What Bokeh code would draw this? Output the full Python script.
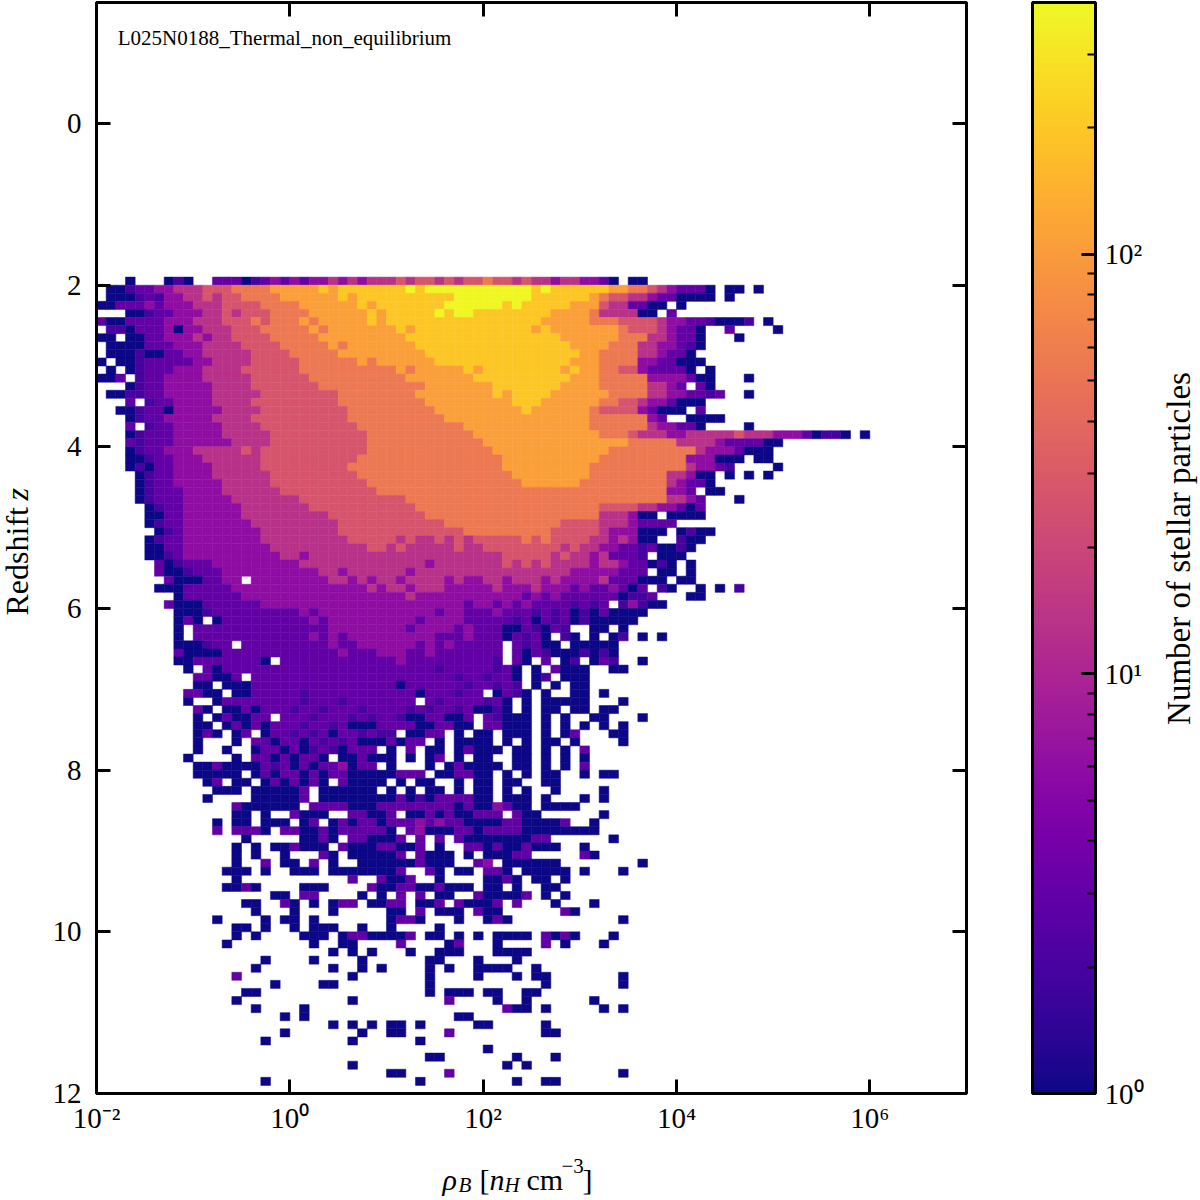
import math
from bokeh.plotting import figure
from bokeh.layouts import row, column
from bokeh.models import (ColumnDataSource, Range1d, FixedTicker, LinearAxis, LogAxis,
                          ColorBar, LogColorMapper, CustomJSTickFormatter, Label)
from bokeh.palettes import Plasma256
from bokeh.transform import transform
from bokeh.embed import file_html
from bokeh.resources import INLINE

# ---------------------------------------------------------------- data ----
# 2D histogram.  One string per redshift bin (0.1 wide,
# first bin starts at z = 1.9), one character per density bin (0.1 dex wide,
# first bin starts at log10 rho = -2).  '.' = empty bin, a digit = colour level
# (number of stellar particles given by LEVEL_COUNTS).  Spaces only group
# the columns by ten.
LOG_RHO_START = -2.0
LOG_RHO_BIN = 0.1
Z_START = 1.9
Z_BIN = 0.1
LEVEL_COUNTS = [1, 2, 3, 6, 13, 27, 55, 105, 200, 380]

HIST_ROWS = [
    "...0...010 ..22201232 3233434344 4545545455 6554544344 3320.00...",
    ".001223344 4555666677 7778788888 8898999999 9999989888 8887766543 2220.00.0.",
    ".000121334 4545566667 7777787888 8888888999 9999988888 8765544322 0000.0....",
    "0022232333 4445555666 6777777878 8888889999 9989888887 775442200. 0.........",
    "...0012233 3445455566 6677777787 8888898998 8888888777 76444400.2",
    "2002222333 4445556566 6767777787 8888888888 8888887777 7666555543 32210001.0",
    ".110222303 3444555666 6676777777 7878888888 8888878777 7777655543 220..2.... 0.........",
    "00.0022333 4344555566 6667777777 7788888888 8888888877 7777666443 220...0...",
    ".000022233 3444455556 6666767777 7778888888 8888888887 7776664433 210.......",
    ".000100223 3444445555 6666677777 7777888888 8888888888 7766664432 20........",
    "0.00122222 3344445555 5666666767 7777788888 8888888887 7766663322 000.......",
    ".0.0122233 3444455555 5666666666 6767777787 8888888878 7766553222 20.0......",
    "002.122333 3444445555 5566666666 6677777778 8888888887 7766666333 3200...0..",
    "...0122333 3344445555 5556666666 6666777777 7888888877 7766666443 2.20......",
    ".001122333 3344444555 5555566666 6667777777 7878888777 7776666443 32212..0..",
    "...2.12233 3344445555 5555566666 6666777777 7778887777 7766554332 000.......",
    "..00122033 3334444555 5555556666 6666677777 7777877777 7655553200 0.2.......",
    "...0122333 3344445555 5555556666 6666667777 7777777777 766666632. .0000.....",
    "...2.12233 3334444555 5555555666 6666666677 7777777777 7666666433 220....0..",
    "...0122233 3334444455 5555555566 6666666667 7777777777 7766654443 3444445444 33320110.0",
    "...2122233 3333444455 5555555566 6666666666 7777777777 7777766666 4444322220 0.........",
    "...0122333 4444454555 5555555566 6666666666 6777777777 7776666666 6643332000",
    "...0012233 3444444555 5555555666 6666666666 6677777777 7766666666 6333000.00",
    "...0102233 3344444555 5555556666 6666666666 6677777777 7666666666 643321.... 0.........",
    "....012233 3344444455 5555555666 6666666666 6667777777 7666666664 4300.0.0.0",
    "....012233 3334444455 5555555566 6666666666 6666777777 6666666664 3220......",
    "....012223 3334444445 5555555556 6666666666 6666666666 6666666663 32.00.....",
    "....012223 3333444444 4555555555 5566666666 6666666666 6666666664 432...0...",
    ".....01223 3333344444 4455555555 5556666666 6666666666 6655554433 202.......",
    ".....00223 3333344444 4444555555 5555666666 6666666666 66444300.0 000.......",
    ".....01223 3333334444 4444455555 5555556666 6666666655 5544432222",
    "......0123 3333333444 4444455555 5555555566 6666666555 554333000. 0100......",
    ".....01223 3333333444 4444445555 5454454545 5555656555 54434300.. 100.......",
    ".....00223 3333333344 4444444455 4544444544 5555555545 4433221200 10........",
    ".....00123 3333333334 4344444444 4444444444 4455555454 4342221.00 0.........",
    "......2012 2233333333 3444444444 4444344444 4454545444 4344322010 .0........",
    "......2001 2223333333 3334434444 4434444444 4444444443 3333222.00 .0........",
    ".......200 02233.3333 3333443434 4344443433 4434443433 334222000. 00........",
    "......0002 2222333333 3333333343 4434443333 3433343332 3223202.10 ..0.0.1...",
    "........02 2222233333 3333333333 3343333333 3333232322 22220112.. .00.......",
    ".......200 0222222333 3333333333 3333333323 3232322221 212.13100.",
    "........00 0122222222 2323333333 3333323322 2322212120 1020000...",
    "........02 0.02222222 2232333333 3332333322 2221202120 100000....",
    "........0. 2222222222 2222333333 3323333232 220021021. .00.0.....",
    "........0. 2222222222 2232323333 3333322232 2202120.10 .0.01.0.0.",
    "........00 0122.22222 2222322333 3332323222 22.21200.0 0000......",
    "........20 0002222222 2222232223 3322322222 22.2021000 1010......",
    "........00 22222220.2 2222222222 2322222222 21.20.2.01 .021..0...",
    ".........0 .202222222 2222222222 2222212222 2120.0.200 0..00.....",
    ".......... 22002.2222 2222222222 2222222122 1220.01.00 0.........",
    ".......... 00.0002222 2222222222 2022222212 2121.0.0.0 0.........",
    ".........2 200.002222 2122222222 2220222122 .0210.0..0 0.0.......",
    ".........0 ..02222222 2122212222 222.212222 120.0.0000 0...0.....",
    ".......... 20.0020222 1221222122 2212122120 010.0.00.0 0.00......",
    ".......... 0.020022.2 2212221212 210022002. 21000.0.0. .00...0...",
    ".......... 00.0202022 2122120002 222002200. 22000.0.0. 0.0.0.....",
    ".......... 020.02.022 1212022121 1.0022.0.0 0.000.0.02 ...00.....",
    ".......... 0...0.2202 2021212000 2022.0.000 0.0.0.00.0 ....0.....",
    ".......... 0..0..0220 201210222. 0.2.00.020 00.00.0.0. 2.........",
    ".........0 ....0.2202 0220.00200 0.0.02.0.0 0..00.0.0. 0.........",
    ".......... 0020000212 020223022. 0...0.0200 00.00.0.0. 2.........",
    ".......... 00000.0202 2020220000 0222.00220 0.0.0.00.. 0.00......",
    ".......... .02.00.020 2020.20000 .0.00..0.0 0.00..00.. ..........",
    ".......... ..000.0000 02.000000. 0.0.00.0.0 0.0.0..0.. ..0.......",
    ".......... .0....0000 02.0000000 0201022220 0.000.0... 0.0.......",
    ".......... ....200000 0.22220002 2222222020 03200.0000",
    ".......... ....00.0.. 2000..2200 2.00202002 22.200.... ..0.......",
    ".......... ..0.00.000 .02.020220 2223232200 002200002. .0........",
    ".......... ..2.2220.2 2002022222 0.23000220 2222000000 00........",
    ".......... .....0.... .0020.2200 02.2.2.200 0000022... ...0......",
    ".......... ....0.0.00 2000.20002 2002.0..22 02002000.. 0.........",
    ".......... ....0.0..0 ...20.0000 02.2000.0. 00022..... 20........",
    ".......... ....0..2.0 0.2.0..000 0002000..2 3.000000.. ......0...",
    ".......... ...000.0.. 000.000000 02..20.00. 220.00000. 0...0.....",
    ".......... ....0..... ......2..2 002..0.... 0020.00.0.",
    ".......... ...0020... .000....20 022002000. 00.0..00..",
    ".......... ........00 .22....0.0 .2.2.00..2 00002.0.0.",
    ".......... .....00..2 0.0.022.00 22.002.200 02.2...0.. .0........",
    ".......... ......0... 0...0..... 00.2.000.2 00......20",
    ".......... ..0....0.0 0.0....... 0220...0.. 020....... ....0.....",
    ".......... ....00.0.. 0.000..0.. 0....0....",
    ".......... ....0.0... .000.02200 002.00.0.0 .0000.2020 ...0......",
    ".......... ...0...... ..0..00... .2....02.. .0....2.0. ..0.......",
    ".......... .......... ....0.0.0. ..0..000.. .0000.....",
    ".......... .......0.. ..0....0.. ....00...0 ...0......",
    ".......... ......0... ....0..0.0 ....0.0..0 000..0....",
    ".......... ....2..... ......0... ....0....0 ...0.00... ....0.....",
    ".......... ........0. ...00..... ....0..... ......0... ....0.....",
    ".......... .....00... .......... ....0.000. 00..00....",
    ".......... ....0..... ......0... ......2... .0..0..... .0........",
    ".......... ......0... .0........ .......... ..200.0... ..0.0.....",
    ".......... .........0 .0........ .......00.",
    ".......... .......... ....0.0.0. 00.0.....0 0.....0...",
    ".......... .........0 .......0.. 00....2... ......00..",
    ".......... .......0.. ......0... ...0......",
    ".......... .......... .......... .......... 0.........",
    ".......... .......... .......... ....00.... ...0...0..",
    ".......... .......... ......0... .......... ..0.0.....",
    ".......... .......... .......... 00....2... .......... ....0.....",
    ".......... .......0.. .......... ...0...... ...0..00..",
]

X_TICKS = [1e-2, 1e0, 1e2, 1e4, 1e6]
Z_TICKS = [0, 2, 4, 6, 8, 10, 12]
CB_TICKS = [1, 10, 100]
CB_MINOR_TICKS = [2, 3, 4, 5, 6, 7, 8, 9, 20, 30, 40, 50, 60, 70, 80, 90, 200, 300]
COUNT_MIN = 1
COUNT_MAX = 398
RHO_RANGE = (1e-2, 1e7)
Z_RANGE = (12, -1.497)

# ------------------------------------------------------- histogram cells ----
left, right, top, bottom, counts = [], [], [], [], []
for r, row_text in enumerate(HIST_ROWS):
    cells = row_text.replace(" ", "")
    z0 = Z_START + r * Z_BIN
    for c, ch in enumerate(cells):
        if ch == ".":
            continue
        lx = LOG_RHO_START + c * LOG_RHO_BIN
        left.append(10 ** lx)
        right.append(10 ** (lx + LOG_RHO_BIN))
        top.append(z0)
        bottom.append(z0 + Z_BIN)
        counts.append(LEVEL_COUNTS[int(ch)])

src = ColumnDataSource(dict(left=left, right=right, top=top, bottom=bottom, count=counts))

FONT = "Liberation Serif"
SUP_JS = """
const sup = {"-": "\u207b", "0": "\u2070", "1": "\u00b9", "2": "\u00b2", "3": "\u00b3",
             "4": "\u2074", "5": "\u2075", "6": "\u2076", "7": "\u2077", "8": "\u2078", "9": "\u2079"};
const e = Math.round(Math.log10(tick));
return "10" + String(e).split("").map(function (ch) { return sup[ch]; }).join("");
"""
EMPTY_JS = 'return "";'

# ------------------------------------------------------------ main plot ----
p = figure(x_axis_type="log", x_range=Range1d(*RHO_RANGE), y_range=Range1d(*Z_RANGE),
           frame_width=870, frame_height=1091,
           min_border_left=52, min_border_right=184, min_border_top=2, min_border_bottom=52,
           output_backend="svg", toolbar_location=None,
           background_fill_color="white", border_fill_color="white",
           outline_line_color="black", outline_line_width=3)
p.grid.visible = False

mapper = LogColorMapper(palette=Plasma256, low=COUNT_MIN, high=COUNT_MAX)
p.quad(left="left", right="right", top="top", bottom="bottom", source=src,
       fill_color=transform("count", mapper), line_color=transform("count", mapper),
       line_width=0.5)


def style_axis(ax, labels=True):
    ax.axis_line_color = "black"
    ax.axis_line_width = 3
    ax.major_tick_in = 14
    ax.major_tick_out = 0
    ax.major_tick_line_color = "black"
    ax.major_tick_line_width = 3
    ax.minor_tick_line_color = None
    ax.major_label_text_font = FONT
    ax.major_label_text_font_size = "29px"
    ax.major_label_text_color = "black"
    if not labels:
        ax.formatter = CustomJSTickFormatter(code=EMPTY_JS)
        ax.major_label_text_font_size = "0px"
        ax.major_label_standoff = 0


xax = p.xaxis[0]
xax.ticker = FixedTicker(ticks=X_TICKS, minor_ticks=[])
xax.formatter = CustomJSTickFormatter(code=SUP_JS)
style_axis(xax)
xax.major_label_standoff = 8

yax = p.yaxis[0]
yax.ticker = FixedTicker(ticks=Z_TICKS, minor_ticks=[])
style_axis(yax)
yax.major_label_standoff = 15

top_ax = LogAxis(ticker=FixedTicker(ticks=X_TICKS, minor_ticks=[]))
style_axis(top_ax, labels=False)
p.add_layout(top_ax, "above")

right_ax = LinearAxis(ticker=FixedTicker(ticks=Z_TICKS, minor_ticks=[]))
style_axis(right_ax, labels=False)
p.add_layout(right_ax, "right")

cb = ColorBar(color_mapper=mapper,
              ticker=FixedTicker(ticks=CB_TICKS, minor_ticks=CB_MINOR_TICKS),
              formatter=CustomJSTickFormatter(code=SUP_JS),
              width=63, height=1091, location=(66, 0), margin=0, padding=0,
              bar_line_color="black", bar_line_width=3,
              major_tick_in=14, major_tick_out=0,
              major_tick_line_color="black", major_tick_line_width=3,
              minor_tick_in=8, minor_tick_out=0,
              minor_tick_line_color="black", minor_tick_line_width=2,
              major_label_text_font=FONT, major_label_text_font_size="29px",
              major_label_text_color="black", label_standoff=9,
              background_fill_color=None, border_line_color=None)
p.add_layout(cb, "right")

# run name (Bokeh draws the alphabetic baseline ~0.33 em lower than asked)
p.add_layout(Label(x=10 ** -1.78, y=-1.064, text="L025N0188_Thermal_non_equilibrium",
                   text_font=FONT, text_font_size="21px", text_color="black",
                   text_align="left", text_baseline="alphabetic"))


# ------------------------------------------- text strips around the plot ----
# small figures whose data units are page pixels; they only carry the axis
# titles that need mixed styles (italic, sub- and superscripts) or rotation.
def strip(x0, x1, y0, y1, borders):
    bl, br, bt, bb = borders
    f = figure(x_range=Range1d(x0, x1), y_range=Range1d(y1, y0),
               frame_width=x1 - x0, frame_height=y1 - y0,
               min_border_left=bl, min_border_right=br,
               min_border_top=bt, min_border_bottom=bb,
               x_axis_location=None, y_axis_location=None,
               output_backend="svg", toolbar_location=None,
               background_fill_color="white", border_fill_color="white",
               outline_line_color=None)
    f.grid.visible = False
    return f


def put(f, text, x, y, size, style="normal", angle=0.0, align="left"):
    f.add_layout(Label(x=x, y=y, text=text, text_font=FONT, text_font_size=size,
                       text_font_style=style, text_color="black", angle=angle,
                       text_align=align, text_baseline="alphabetic"))


ylab = strip(0, 44, 2, 1093, (0, 0, 2, 105))
put(ylab, "Redshift", 16, 615, "32px", angle=math.pi / 2)
put(ylab, "z", 16, 500, "32px", "italic", angle=math.pi / 2)

xlab = strip(96, 966, 1145, 1198, (52, 184, 0, 0))
put(xlab, "\u03c1", 442, 1179, "30px", "italic")
put(xlab, "B", 458, 1184, "21px", "italic")
put(xlab, "[", 479, 1179, "30px")
put(xlab, "n", 489, 1179, "30px", "italic")
put(xlab, "H", 504, 1184, "21px", "italic")
put(xlab, "cm", 526, 1179, "30px")
put(xlab, "\u22123", 561, 1165, "21px")
put(xlab, "]", 582, 1179, "30px")

cblab = strip(1150, 1198, 2, 1093, (0, 0, 2, 105))
put(cblab, "Number of stellar particles", 1178, 548, "33px", angle=math.pi / 2, align="center")

layout = row(ylab, column(p, xlab), cblab)

with open("out.html", "w", encoding="utf-8") as fh:
    fh.write(file_html(layout, INLINE))
